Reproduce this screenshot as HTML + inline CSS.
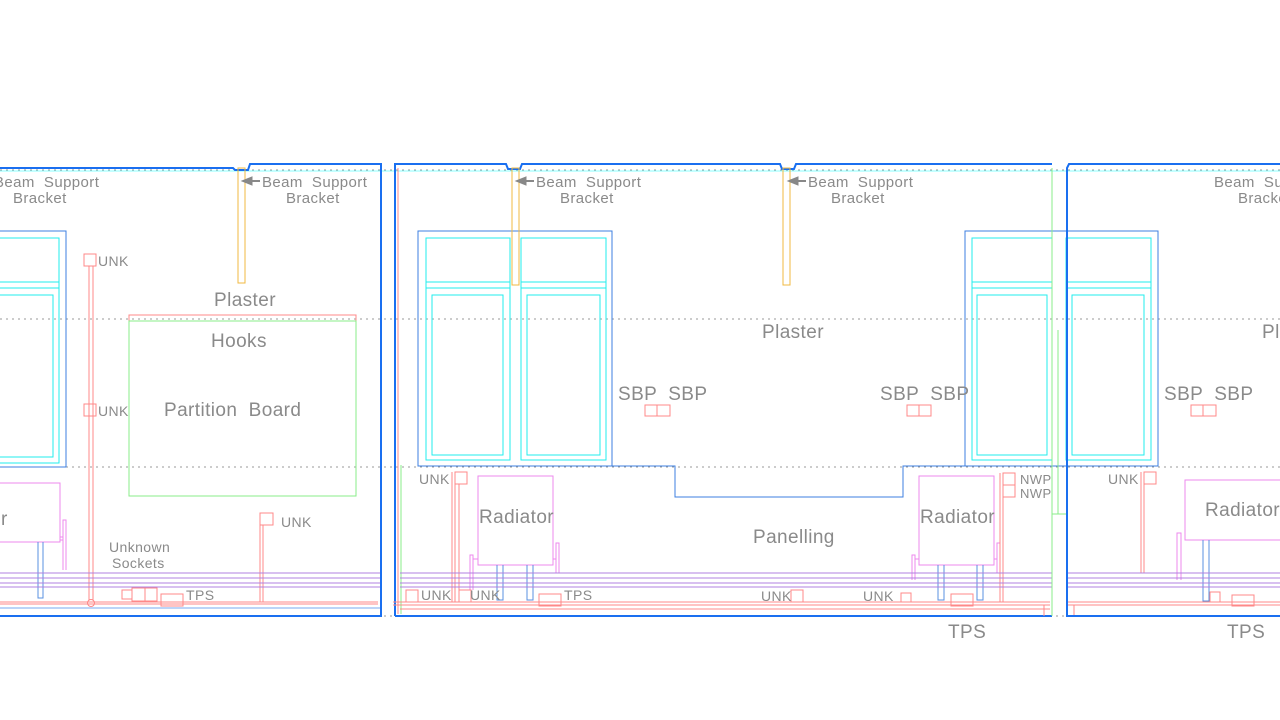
<!DOCTYPE html>
<html><head><meta charset="utf-8"><style>
html,body{margin:0;padding:0;background:#fff;width:1280px;height:720px;overflow:hidden}
svg{display:block}
text{font-family:"Liberation Sans",sans-serif;fill:#8a8a8a;letter-spacing:0.4px;white-space:pre}
</style></head><body>
<svg width="1280" height="720" viewBox="0 0 1280 720" xmlns="http://www.w3.org/2000/svg" xml:space="preserve">
<g fill="none" stroke-width="1">
<g stroke="#999" stroke-dasharray="2,4">
<line x1="0" y1="170" x2="1280" y2="170"/>
<line x1="0" y1="319" x2="1280" y2="319"/>
<line x1="0" y1="467" x2="1280" y2="467"/>
<line x1="0" y1="616" x2="1280" y2="616"/>
</g>
<line x1="0" y1="171" x2="1280" y2="171" stroke="#8ff" stroke-width="1"/>

<path d="M0 168 H233 L235 170 H248 L250 164 H381 V616 H0" stroke="#1a6ff0" stroke-width="2"/>
<line x1="0" y1="608" x2="380" y2="608" stroke="#7aaaf0"/>
<rect x="-5" y="231" width="71" height="236" stroke="#3c7fe0"/>
<rect x="-5" y="238" width="64" height="225" stroke="#2ee"/>
<line x1="0" y1="282" x2="59" y2="282" stroke="#2ee"/>
<line x1="0" y1="288" x2="59" y2="288" stroke="#2ee"/>
<rect x="-5" y="295" width="58" height="162" stroke="#2ee"/>
<rect x="238" y="168" width="7" height="115" stroke="#f0b840"/>
<g stroke="#f88">
<rect x="84" y="254" width="12" height="12"/>
<line x1="89" y1="266" x2="89" y2="600"/><line x1="93" y1="266" x2="93" y2="600"/>
<rect x="84" y="404" width="12" height="12"/>
<circle cx="91" cy="603" r="3.5"/>
<rect x="260" y="513" width="13" height="12"/>
<line x1="260" y1="513" x2="260" y2="602"/><line x1="263" y1="525" x2="263" y2="602"/>
<rect x="129" y="315" width="227" height="6"/>
<line x1="0" y1="602" x2="378" y2="602"/><line x1="0" y1="604" x2="378" y2="604"/>
<rect x="122" y="590" width="10" height="9"/>
<rect x="132" y="588" width="13" height="13"/><rect x="145" y="588" width="12" height="13"/>
<rect x="161" y="594" width="22" height="12"/>
</g>
<rect x="129" y="321" width="227" height="175" stroke="#8e8"/>
<g stroke="#e8e">
<rect x="-5" y="483" width="65" height="59"/>
<path d="M63 570 V520 H66 V570"/>
<line x1="60" y1="537" x2="63" y2="537"/><line x1="60" y1="540" x2="63" y2="540"/>
</g>
<g stroke="#5a90e0"><path d="M38 542 V598 H43 V542"/></g>
<g stroke="#b080e0">
<line x1="0" y1="573" x2="380" y2="573"/><line x1="0" y1="578" x2="380" y2="578"/>
<line x1="0" y1="583" x2="380" y2="583"/><line x1="0" y1="587" x2="380" y2="587"/>
</g>

<path d="M395 616 V164 H506 L508 169 H520 L522 164 H780 L782 169 H794 L796 164 H1052" stroke="#1a6ff0" stroke-width="2"/>
<line x1="395" y1="616" x2="1052" y2="616" stroke="#1a6ff0" stroke-width="2"/>
<line x1="398" y1="168" x2="398" y2="614" stroke="#f88"/>
<line x1="401" y1="465" x2="401" y2="614" stroke="#8e8"/>
<rect x="418" y="231" width="194" height="235" stroke="#3c7fe0"/>
<g stroke="#2ee">
<rect x="426" y="238" width="84" height="222"/><rect x="521" y="238" width="85" height="222"/>
<line x1="426" y1="282" x2="510" y2="282"/><line x1="426" y1="288" x2="510" y2="288"/>
<line x1="521" y1="282" x2="606" y2="282"/><line x1="521" y1="288" x2="606" y2="288"/>
<rect x="432" y="295" width="71" height="160"/><rect x="527" y="295" width="73" height="160"/>
</g>
<rect x="512" y="168" width="7" height="117" stroke="#f0b840"/>
<rect x="783" y="168" width="7" height="117" stroke="#f0b840"/>
<path d="M612 466 H675 V497 H903 V466 H965" stroke="#3c7fe0"/>
<rect x="965" y="231" width="193" height="235" stroke="#3c7fe0"/>
<g stroke="#2ee">
<rect x="972" y="238" width="80" height="222"/><rect x="1066" y="238" width="85" height="222"/>
<line x1="972" y1="282" x2="1052" y2="282"/><line x1="972" y1="288" x2="1052" y2="288"/>
<line x1="1066" y1="282" x2="1151" y2="282"/><line x1="1066" y1="288" x2="1151" y2="288"/>
<rect x="977" y="295" width="70" height="160"/><rect x="1072" y="295" width="72" height="160"/>
</g>
<g stroke="#f88">
<rect x="645" y="405" width="12" height="11"/><rect x="657" y="405" width="13" height="11"/>
<rect x="907" y="405" width="12" height="11"/><rect x="919" y="405" width="12" height="11"/>
<rect x="1191" y="405" width="12" height="11"/><rect x="1203" y="405" width="13" height="11"/>
</g>
<g stroke="#e8e">
<rect x="478" y="476" width="75" height="89"/>
<path d="M470 590 V555 H473 V590"/><path d="M556 573 V543 H559 V573"/>
<line x1="473" y1="559" x2="478" y2="559"/><line x1="553" y1="559" x2="556" y2="559"/>
<rect x="919" y="476" width="75" height="89"/>
<path d="M912 580 V555 H915 V580"/><path d="M997 573 V543 H1000 V573"/>
<line x1="915" y1="559" x2="919" y2="559"/><line x1="994" y1="559" x2="997" y2="559"/>
<rect x="1185" y="480" width="100" height="60"/>
<path d="M1177 580 V533 H1181 V580"/>
</g>
<g stroke="#5a90e0">
<path d="M497 565 V600 H503 V565"/><path d="M527 565 V600 H533 V565"/>
<path d="M938 565 V600 H944 V565"/><path d="M977 565 V600 H983 V565"/>
<path d="M1203 540 V601 H1209 V540"/>
</g>
<g stroke="#f88">
<rect x="455" y="472" width="12" height="12"/>
<line x1="452" y1="472" x2="452" y2="602"/><line x1="455" y1="472" x2="455" y2="602"/>
<line x1="459" y1="484" x2="459" y2="602"/>
<rect x="406" y="590" width="12" height="12"/><rect x="459" y="590" width="12" height="12"/>
<rect x="539" y="594" width="22" height="12"/>
<rect x="791" y="590" width="12" height="12"/>
<rect x="901" y="593" width="10" height="9"/>
<rect x="951" y="594" width="22" height="12"/>
<rect x="1003" y="473" width="12" height="12"/><rect x="1003" y="485" width="12" height="12"/>
<line x1="1000" y1="473" x2="1000" y2="602"/><line x1="1003" y1="473" x2="1003" y2="602"/>
<line x1="393" y1="602" x2="1050" y2="602"/><line x1="393" y1="605" x2="1050" y2="605"/>
<line x1="400" y1="609" x2="1050" y2="609"/>
<line x1="1044" y1="605" x2="1044" y2="616"/>
<rect x="1144" y="472" width="12" height="12"/>
<line x1="1141" y1="472" x2="1141" y2="573"/><line x1="1144" y1="484" x2="1144" y2="573"/>
<rect x="1210" y="592" width="10" height="10"/>
<rect x="1232" y="595" width="22" height="11"/>
<line x1="1068" y1="602" x2="1280" y2="602"/><line x1="1068" y1="605" x2="1280" y2="605"/>
<line x1="1074" y1="605" x2="1074" y2="616"/>
</g>
<g stroke="#b080e0">
<line x1="400" y1="573" x2="1052" y2="573"/><line x1="400" y1="578" x2="1052" y2="578"/>
<line x1="400" y1="583" x2="1052" y2="583"/><line x1="400" y1="587" x2="1052" y2="587"/>
<line x1="1066" y1="573" x2="1280" y2="573"/><line x1="1066" y1="578" x2="1280" y2="578"/>
<line x1="1066" y1="583" x2="1280" y2="583"/><line x1="1066" y1="587" x2="1280" y2="587"/>
</g>
<line x1="1052" y1="168" x2="1052" y2="616" stroke="#8e8"/>
<line x1="1058" y1="330" x2="1058" y2="514" stroke="#8e8"/>
<line x1="1052" y1="514" x2="1066" y2="514" stroke="#8e8"/>

<path d="M1067 616 V168 L1069 164 H1280" stroke="#1a6ff0" stroke-width="2"/>
<line x1="1066" y1="616" x2="1280" y2="616" stroke="#1a6ff0" stroke-width="2"/>
</g>

<g fill="#888" stroke="#888">
<line x1="246" y1="181" x2="260" y2="181" stroke-width="2"/><path d="M242 181 L252 177 L252 185Z"/>
<line x1="520" y1="181" x2="534" y2="181" stroke-width="2"/><path d="M516 181 L526 177 L526 185Z"/>
<line x1="792" y1="181" x2="806" y2="181" stroke-width="2"/><path d="M788 181 L798 177 L798 185Z"/>
</g>

<g font-size="15">
<text x="-6" y="187">Beam  Support</text><text x="13" y="203">Bracket</text>
<text x="262" y="187">Beam  Support</text><text x="286" y="203">Bracket</text>
<text x="536" y="187">Beam  Support</text><text x="560" y="203">Bracket</text>
<text x="808" y="187">Beam  Support</text><text x="831" y="203">Bracket</text>
<text x="1214" y="187">Beam  Support</text><text x="1238" y="203">Bracket</text>
<text x="109" y="552" font-size="14">Unknown</text><text x="112" y="568" font-size="14">Sockets</text>
</g>
<g font-size="14">
<text x="98" y="266">UNK</text><text x="98" y="416">UNK</text><text x="281" y="527">UNK</text>
<text x="186" y="600">TPS</text>
<text x="419" y="484">UNK</text><text x="421" y="600">UNK</text><text x="470" y="600">UNK</text>
<text x="564" y="600">TPS</text><text x="761" y="601">UNK</text><text x="863" y="601">UNK</text>
<text x="1020" y="484" font-size="13">NWP</text><text x="1020" y="498" font-size="13">NWP</text>
<text x="1108" y="484">UNK</text>
</g>
<g font-size="19">
<text x="214" y="306">Plaster</text>
<text x="211" y="347">Hooks</text>
<text x="164" y="416">Partition  Board</text>
<text x="-10" y="525">or</text>
<text x="762" y="338">Plaster</text>
<text x="1262" y="338">Pl</text>
<text x="618" y="400">SBP  SBP</text>
<text x="880" y="400">SBP  SBP</text>
<text x="1164" y="400">SBP  SBP</text>
<text x="479" y="523">Radiator</text>
<text x="920" y="523">Radiator</text>
<text x="1205" y="516">Radiator</text>
<text x="753" y="543">Panelling</text>
<text x="948" y="638">TPS</text>
<text x="1227" y="638">TPS</text>
</g>
</svg>
</body></html>
